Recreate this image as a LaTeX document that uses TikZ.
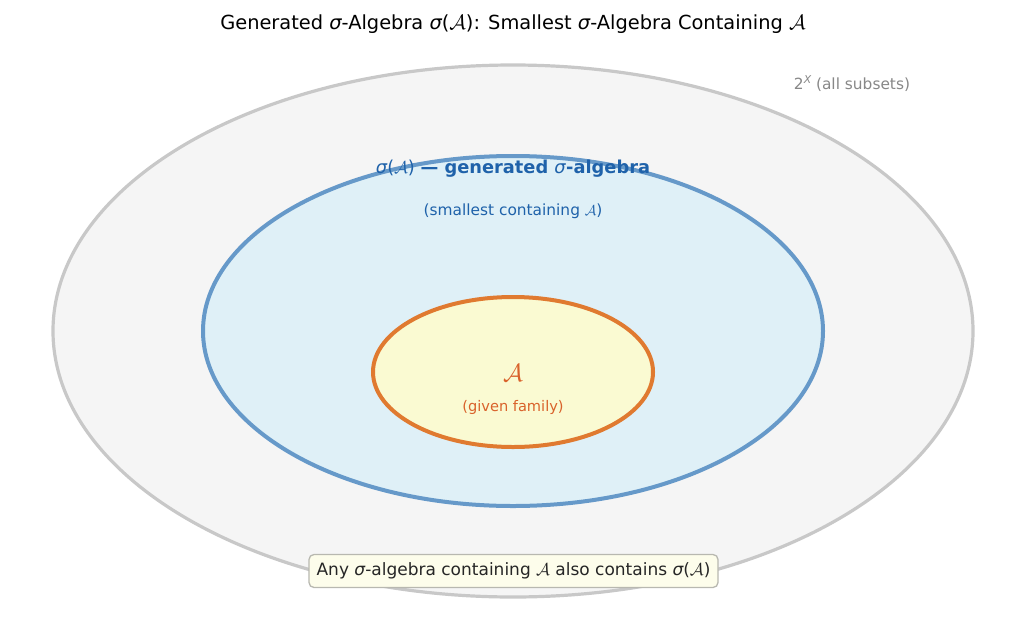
\documentclass[tikz,border=0pt]{standalone}
\usepackage{fontspec}
\setmainfont{DejaVu Sans}
\newfontfamily\sig{DejaVu Sans Oblique}
\definecolor{outerfill}{HTML}{F5F5F5}
\definecolor{outerline}{HTML}{C8C8C8}
\definecolor{midfill}{HTML}{DFF0F7}
\definecolor{midline}{HTML}{6699C9}
\definecolor{innfill}{HTML}{FAFAD2}
\definecolor{innline}{HTML}{E07A30}
\definecolor{bluetxt}{HTML}{1F62AA}
\definecolor{orgtxt}{HTML}{D9622B}
\definecolor{graytxt}{HTML}{888888}
\definecolor{boxfill}{HTML}{FDFDEB}
\definecolor{boxline}{HTML}{B8B8B0}
\newcommand{\sg}{{\mdseries\sig σ}}
\newcommand{\calA}{$\mathcal{A}$}
\tikzset{
  txt/.style={inner sep=0pt, anchor=center},
}
\begin{document}
\begin{tikzpicture}[x=1pt,y=-1pt]
\useasboundingbox (0,0) rectangle (1027,635);
\fill[white] (0,0) rectangle (1027,635);
\draw[line width=3.2pt, draw=outerline, fill=outerfill] (513,331) ellipse [x radius=460, y radius=266];
\draw[line width=4pt, draw=midline, fill=midfill] (513,331) ellipse [x radius=310, y radius=175];
\draw[line width=4pt, draw=innline, fill=innfill] (513,372) ellipse [x radius=140, y radius=75];
\node[txt, font=\fontsize{19.4}{22}\selectfont] (title) at (513,24) {Generated \sg-Algebra \sg(\calA): Smallest \sg-Algebra Containing \calA};
\node[txt, text=graytxt, font=\fontsize{15.4}{17}\selectfont] (all) at (852,84) {2\raisebox{6pt}{\fontsize{10.8}{12}\selectfont\sig X} (all subsets)};
\node[txt, text=bluetxt, font=\fontsize{17.8}{20}\selectfont] (gen) at (513,169) {\sg(\calA) \textbf{— generated }\sg\textbf{-algebra}};
\node[txt, text=bluetxt, font=\fontsize{15.4}{17}\selectfont] (small) at (513,211) {(smallest containing \calA)};
\node[txt, text=orgtxt, font=\fontsize{25}{28}\selectfont] (A) at (513,373) {\calA};
\node[txt, text=orgtxt, font=\fontsize{14.6}{16}\selectfont] (given) at (513,407) {(given family)};
\node[anchor=center, draw=boxline, fill=boxfill, rounded corners=5pt, line width=1.3pt, minimum width=409pt, minimum height=33pt, inner sep=0pt, text=black!85, font=\fontsize{17}{19}\selectfont] (note) at (513.5,571) {Any \sg-algebra containing \calA{} also contains \sg(\calA)};
\end{tikzpicture}
\end{document}
